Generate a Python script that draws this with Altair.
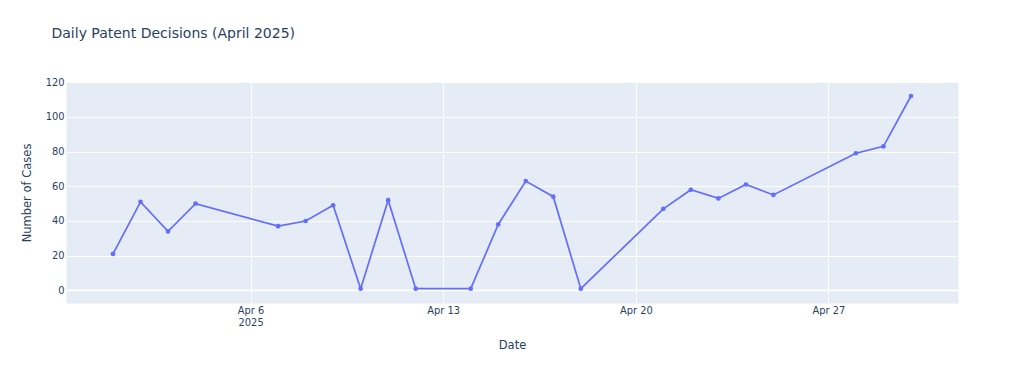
import altair as alt
import pandas as pd

dates = ["2025-04-01", "2025-04-02", "2025-04-03", "2025-04-04", "2025-04-07",
         "2025-04-08", "2025-04-09", "2025-04-10", "2025-04-11", "2025-04-12",
         "2025-04-14", "2025-04-15", "2025-04-16", "2025-04-17", "2025-04-18",
         "2025-04-21", "2025-04-22", "2025-04-23", "2025-04-24", "2025-04-25",
         "2025-04-28", "2025-04-29", "2025-04-30"]
cases = [21, 51, 34, 50, 37, 40, 49, 1, 52, 1, 1, 38, 63, 54, 1,
         47, 58, 53, 61, 55, 79, 83, 112]
y_ticks = [0, 20, 40, 60, 80, 100, 120]
x_tick_days = [6, 13, 20, 27]

df = pd.DataFrame({"date": dates, "cases": cases})
zero_df = pd.DataFrame({"cases": [0]})

FONT = "DejaVu Sans"
TXT = "#2a3f5f"
LINE = "#636efa"

x_scale = alt.Scale(
    type="utc",
    domain=[alt.DateTime(year=2025, month=3, date=30, hours=7, utc=True),
            alt.DateTime(year=2025, month=5, date=1, hours=17, utc=True)],
)
y_scale = alt.Scale(domain=[-7.25, 120.05], nice=False, zero=False)

x_axis = alt.Axis(
    values=[alt.DateTime(year=2025, month=4, date=d, utc=True) for d in x_tick_days],
    labelExpr="utcdate(datum.value) == 6 ? ['Apr 6', '2025'] : utcFormat(datum.value, '%b %-d')",
    title="Date",
    titleX=446, titleY=42, titleBaseline="middle", titleAlign="center",
    titleFont=FONT, titleFontSize=11.5, titleColor=TXT, titleFontWeight="normal",
    labelFont=FONT, labelFontSize=9.9, labelColor=TXT, labelPadding=2,
    labelLineHeight=12.6, labelBaseline="top",
    grid=True, gridColor="white", gridWidth=0.9,
    domain=False, ticks=False,
)
y_axis = alt.Axis(
    values=y_ticks,
    title="Number of Cases",
    titleX=-39, titleY=110.5, titleAngle=270, titleBaseline="middle", titleAlign="center",
    titleFont=FONT, titleFontSize=11.5, titleColor=TXT, titleFontWeight="normal",
    labelFont=FONT, labelFontSize=9.9, labelColor=TXT, labelPadding=2,
    grid=True, gridColor="white", gridWidth=0.9,
    domain=False, ticks=False,
)

zero_rule = alt.Chart(zero_df).mark_rule(color="white", strokeWidth=1.7).encode(
    y=alt.Y("cases:Q", scale=y_scale, axis=y_axis),
)

line = alt.Chart(df).mark_line(
    color=LINE, strokeWidth=1.7,
    point=alt.OverlayMarkDef(filled=True, size=22, color=LINE, opacity=1),
).encode(
    x=alt.X("date:T", scale=x_scale, axis=x_axis),
    y=alt.Y("cases:Q", scale=y_scale, axis=y_axis),
)

chart = alt.layer(zero_rule, line).properties(
    width=892,
    height=221,
    autosize=alt.AutoSizeParams(type="none"),
    padding={"left": 66, "top": 82, "right": 66, "bottom": 66},
    background="white",
    title=alt.TitleParams(
        "Daily Patent Decisions (April 2025)",
        anchor="start", frame="group", dx=-14.5, offset=36,
        font=FONT, fontSize=14, color=TXT, fontWeight="normal",
    ),
).configure_view(fill="#E5ECF6", stroke="transparent")

chart.save("out.html", embed_options={"renderer": "svg", "actions": False})
